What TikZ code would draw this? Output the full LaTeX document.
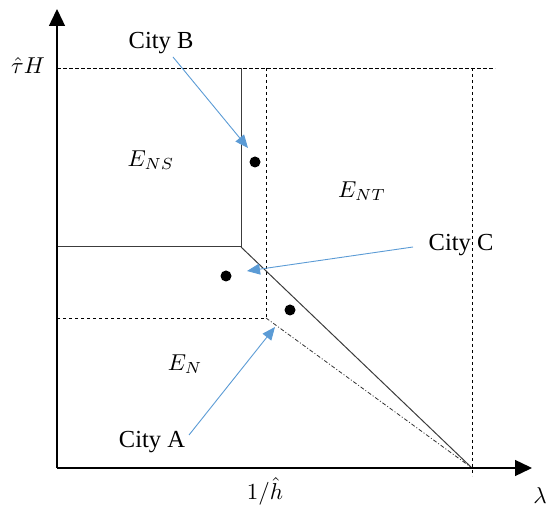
\documentclass[tikz,border=0pt]{standalone}
\usepackage{graphicx}
\usepackage{fontspec}
\usepackage{amsmath}
\setmainfont{Liberation Serif}
\usetikzlibrary{arrows.meta}
\definecolor{arrowblue}{RGB}{91,155,213}
\definecolor{linegray}{RGB}{60,60,60}
\newcommand{\bigmath}[1]{\scalebox{2.3}{$#1$}}
\tikzset{
  axis/.style={line width=1.4pt, black, -{Triangle[length=17pt,width=16pt]}},
  solidline/.style={line width=1pt, linegray},
  dashline/.style={line width=0.9pt, black, dash pattern=on 3.5pt off 2.5pt},
  dashdotline/.style={line width=0.8pt, black!80, dash pattern=on 4pt off 2pt on 1pt off 2pt},
  cityarrow/.style={line width=0.9pt, arrowblue, -{Triangle[length=13pt,width=11pt]}},
  citylabel/.style={font=\fontsize{24.5}{28}\selectfont, inner sep=0pt},
  mathlabel/.style={inner sep=0pt},
  citydot/.style={circle, fill=black, inner sep=0pt, minimum size=11pt},
}
\begin{document}
\begin{tikzpicture}[x=1pt,y=-1pt]
\useasboundingbox (0,0) rectangle (550,513);
% key coordinates
\coordinate (O) at (57,468);
\coordinate (ytop) at (57,9);
\coordinate (xend) at (532,468);
\coordinate (tl) at (57,68);
\coordinate (tr) at (495,68);
\coordinate (nsT) at (241,68);
\coordinate (nsC) at (241,247);
\coordinate (nsL) at (57,247);
\coordinate (dT) at (266,68);
\coordinate (dC) at (266,318);
\coordinate (dL) at (57,318);
\coordinate (rT) at (472,68);
\coordinate (rB) at (472,476);
\coordinate (X) at (472,468);
% region lines
\draw[dashline] (tl) -- (tr);
\draw[dashline] (dT) -- (dC) -- (dL);
\draw[dashline] (rT) -- (rB);
\draw[solidline] (nsT) -- (nsC) -- (nsL);
\draw[solidline] (nsC) -- (X);
\draw[dashdotline] (dC) -- (X);
% axes
\draw[axis] (O) -- (ytop);
\draw[axis] (O) -- (xend);
% axis labels
\node[mathlabel] (tauH) at (28,66) {\bigmath{\hat{\tau}H}};
\node[mathlabel] (hinv) at (265,491) {\bigmath{1/\hat{h}}};
\node[mathlabel] (lam) at (540,496) {\bigmath{\lambda}};
% region labels
\node[mathlabel] (ENS) at (151,160) {\bigmath{E_{NS}}};
\node[mathlabel] (ENT) at (362,191) {\bigmath{E_{NT}}};
\node[mathlabel] (EN) at (185,364) {\bigmath{E_{N}}};
% dots
\node[citydot] (dotB) at (255,162) {};
\node[citydot] (dotC) at (226,276) {};
\node[citydot] (dotA) at (290,310) {};
% city labels and arrows
\node[citylabel] (cityB) at (161,43) {City B};
\node[citylabel] (cityC) at (461,245) {City C};
\node[citylabel] (cityA) at (152,442) {City A};
\coordinate (bTail) at (173,57);
\coordinate (bTip) at (248,148);
\coordinate (cTail) at (413,247);
\coordinate (cTip) at (247,271);
\coordinate (aTail) at (189,435);
\coordinate (aTip) at (275,327);
\draw[cityarrow] (bTail) -- (bTip);
\draw[cityarrow] (cTail) -- (cTip);
\draw[cityarrow] (aTail) -- (aTip);
\end{tikzpicture}
\end{document}
